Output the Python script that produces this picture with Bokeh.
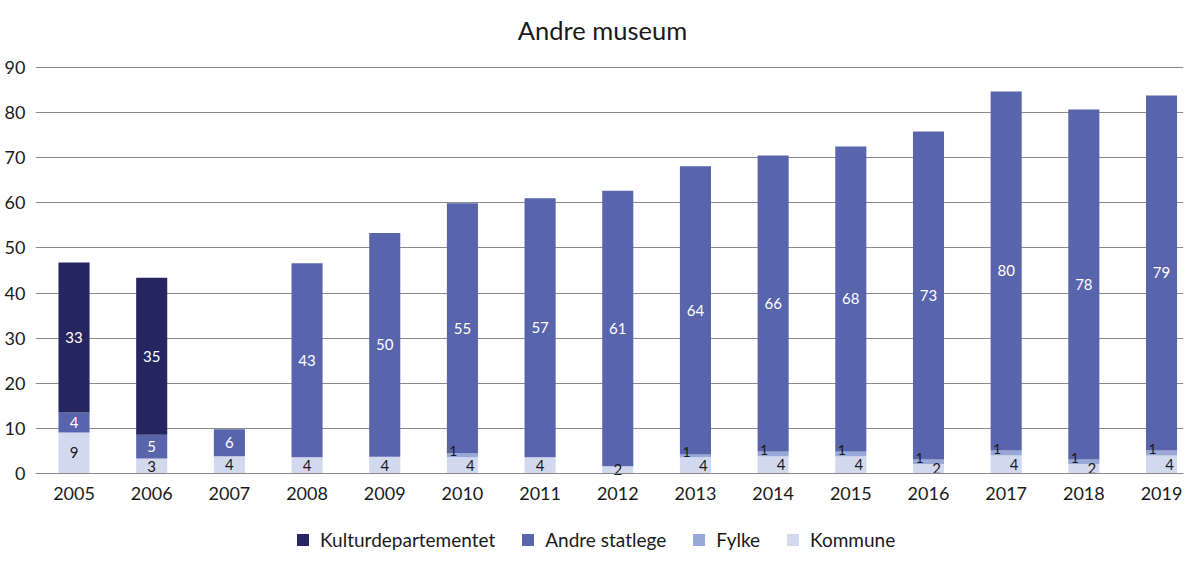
from bokeh.plotting import figure
from bokeh.models import (ColumnDataSource, Range1d, FixedTicker, Legend, LegendItem)
from bokeh.core.properties import value
from bokeh.embed import file_html
from bokeh.resources import INLINE

years = [2005, 2006, 2007, 2008, 2009, 2010, 2011, 2012, 2013, 2014, 2015, 2016, 2017, 2018, 2019]
kommune = [9.1, 3.3, 3.8, 3.6, 3.7, 3.6, 3.6, 1.6, 3.6, 3.8, 3.8, 2.1, 4.0, 2.1, 4.0]
fylke = [0, 0, 0, 0, 0, 0.9, 0, 0, 0.6, 1.1, 1.1, 1.0, 1.1, 1.0, 1.1]
andre = [4.4, 5.3, 6.0, 43.0, 49.6, 55.4, 57.4, 61.1, 63.9, 65.6, 67.6, 72.7, 79.6, 77.6, 78.7]
kultur = [33.3, 34.8, 0, 0, 0, 0, 0, 0, 0, 0, 0, 0, 0, 0, 0]
series_names = ["Kulturdepartementet", "Andre statlege", "Fylke", "Kommune"]
y_ticks = [0, 10, 20, 30, 40, 50, 60, 70, 80, 90]
title_text = "Andre museum"

c_kultur = "#25265f"
c_andre = "#5864ab"
c_fylke = "#98a9d9"
c_kommune = "#d2d9ef"

FONT = "Lato"
TXT = "#1a1a1a"

# layout (pixels)
PLOT_TOP_PX = 67      # where the 90-gridline sits
PLOT_H_PX = 406       # 0..90
FRAME_H = 559         # frame covers title, plot and legend band
TITLE_Y_PX = 29       # title centre
TITLE_X_PX = 602
FRAME_L, FRAME_W = 35, 1148
LEGEND_X, LEGEND_Y = 260, 8   # legend bottom-left, from frame bottom-left
px_per_unit = PLOT_H_PX / 90.0
zero_px = PLOT_TOP_PX + PLOT_H_PX
y_end = 90 + PLOT_TOP_PX / px_per_unit
y_start = -(FRAME_H - zero_px) / px_per_unit
x_start, x_end = 2004.504, 2019.283

data = dict(year=years, kommune=kommune, fylke=fylke, andre=andre, kultur=kultur)
src = ColumnDataSource(data)

p = figure(frame_width=FRAME_W, frame_height=FRAME_H,
           output_backend="svg", toolbar_location=None,
           x_range=Range1d(x_start, x_end), y_range=Range1d(y_start, y_end),
           min_border_left=FRAME_L, min_border_right=1, min_border_top=0, min_border_bottom=0)
p.outline_line_color = None

renderers = p.vbar_stack(["kommune", "fylke", "andre", "kultur"], x="year", width=0.4,
                         color=[c_kommune, c_fylke, c_andre, c_kultur], line_color=None, source=src)

def add_labels(xs, ys, texts, color, size, x_offset=0):
    s = ColumnDataSource(dict(x=xs, y=ys, t=texts))
    p.text(x="x", y="y", text="t", source=s, text_color=color, text_font=value(FONT),
           text_font_size=size, text_align="center", text_baseline="middle", x_offset=x_offset)

kx, ky, kt = [], [], []
ax, ay, at = [], [], []
fx, fy, ft = [], [], []
mx, my, mt = [], [], []
mx2, my2, mt2 = [], [], []
for i, yr in enumerate(years):
    b0 = kommune[i]
    b1 = b0 + fylke[i]
    b2 = b1 + andre[i]
    b3 = b2 + kultur[i]
    if kultur[i] > 0.5:
        kx.append(yr); ky.append((b2 + b3) / 2); kt.append(str(round(kultur[i])))
    ax.append(yr); ay.append((b1 + b2) / 2); at.append(str(round(andre[i])))
    if fylke[i] > 0:
        fx.append(yr); fy.append((b0 + b1) / 2 + 0.9); ft.append(str(max(1, round(fylke[i]))))
        mx2.append(yr); my2.append(b0 / 2); mt2.append(str(round(kommune[i])))
    else:
        mx.append(yr); my.append(b0 / 2); mt.append(str(round(kommune[i])))

add_labels(kx, ky, kt, "white", "15px")
add_labels(ax, ay, at, "white", "15px")
add_labels(fx, fy, ft, TXT, "14px", x_offset=-9)
add_labels(mx, my, mt, TXT, "15px")
add_labels(mx2, my2, mt2, TXT, "15px", x_offset=8)

# title (drawn in the frame's top band)
tx = x_start + (TITLE_X_PX - FRAME_L) / FRAME_W * (x_end - x_start)
ty = (zero_px - TITLE_Y_PX) / px_per_unit
tsrc = ColumnDataSource(dict(x=[tx], y=[ty], t=[title_text]))
p.text(x="x", y="y", text="t", source=tsrc, text_color=TXT, text_font=value(FONT),
       text_font_size="25.5px", text_align="center", text_baseline="middle")

p.xaxis.ticker = FixedTicker(ticks=years)
p.yaxis.ticker = FixedTicker(ticks=y_ticks)
for ax_ in (p.xaxis[0], p.yaxis[0]):
    ax_.major_tick_line_color = None
    ax_.minor_tick_line_color = None
    ax_.major_tick_out = 0
    ax_.major_tick_in = 0
    ax_.major_label_text_font = FONT
    ax_.major_label_text_font_size = "18px"
    ax_.major_label_text_color = TXT
p.yaxis.axis_line_color = None
p.yaxis.major_label_standoff = 10
p.xaxis.fixed_location = 0
p.xaxis.axis_line_color = "#8a8a8a"
p.xaxis.axis_line_width = 1.2
p.xaxis.major_label_standoff = 13
p.xgrid.grid_line_color = None
p.ygrid.grid_line_color = "#8a8a8a"
p.ygrid.grid_line_width = 1

items = [LegendItem(label=series_names[0], renderers=[renderers[3]]),
         LegendItem(label=series_names[1], renderers=[renderers[2]]),
         LegendItem(label=series_names[2], renderers=[renderers[1]]),
         LegendItem(label=series_names[3], renderers=[renderers[0]])]
legend = Legend(items=items, orientation="horizontal", location=(LEGEND_X, LEGEND_Y),
                label_text_font=FONT, label_text_font_size="19px", label_text_color=TXT,
                glyph_width=15, glyph_height=15, spacing=25, label_standoff=10,
                border_line_color=None, background_fill_alpha=0, margin=0, padding=0)
p.add_layout(legend, "center")

open("out.html", "w").write(file_html(p, INLINE))
